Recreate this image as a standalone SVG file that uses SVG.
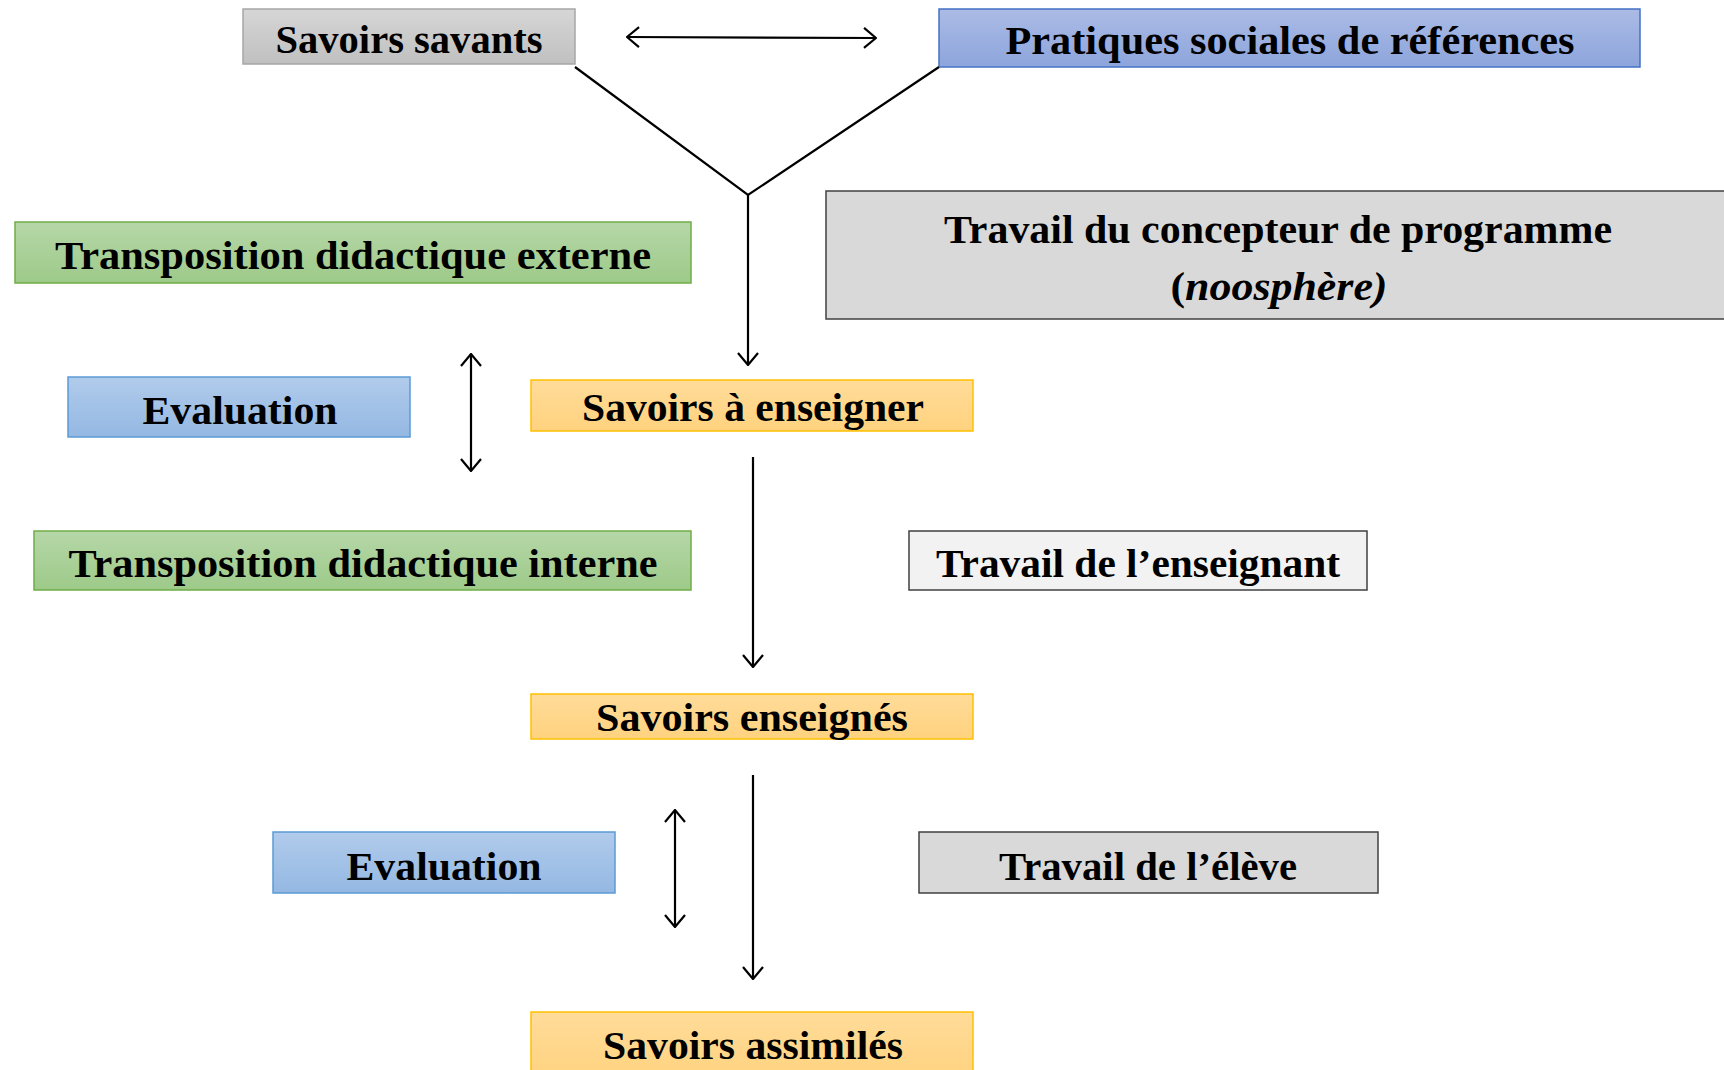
<svg xmlns="http://www.w3.org/2000/svg" width="1724" height="1070" viewBox="0 0 1724 1070">
<defs>
<linearGradient id="gGray" x1="0" y1="0" x2="0" y2="1"><stop offset="0" stop-color="#d6d6d6"/><stop offset="1" stop-color="#c0c0c0"/></linearGradient>
<linearGradient id="gBlue1" x1="0" y1="0" x2="0" y2="1"><stop offset="0" stop-color="#abbbe5"/><stop offset="1" stop-color="#8da5dc"/></linearGradient>
<linearGradient id="gGreen" x1="0" y1="0" x2="0" y2="1"><stop offset="0" stop-color="#b6d7a8"/><stop offset="1" stop-color="#9dca89"/></linearGradient>
<linearGradient id="gBlue2" x1="0" y1="0" x2="0" y2="1"><stop offset="0" stop-color="#b1cbeb"/><stop offset="1" stop-color="#94b8e3"/></linearGradient>
<linearGradient id="gYellow" x1="0" y1="0" x2="0" y2="1"><stop offset="0" stop-color="#ffdc9a"/><stop offset="1" stop-color="#ffd27e"/></linearGradient>
<marker id="arr" viewBox="0 0 14 22" refX="13" refY="11" markerWidth="14" markerHeight="22" markerUnits="userSpaceOnUse" orient="auto-start-reverse">
<path d="M1,1 L13,11 L1,21" fill="none" stroke="#000" stroke-width="2.2"/>
</marker>
</defs>
<style>
text{font-family:"Liberation Serif","Times New Roman",serif;font-weight:bold;fill:#000;text-anchor:middle;font-size:40px}
.con line,.con polyline{stroke:#000;stroke-width:2.2;fill:none}
.gray{fill:url(#gGray);stroke:#a6a6a6;stroke-width:1.5}
.blue1{fill:url(#gBlue1);stroke:#4472c4;stroke-width:1.5}
.green{fill:url(#gGreen);stroke:#70ad47;stroke-width:1.5}
.blue2{fill:url(#gBlue2);stroke:#5b9bd5;stroke-width:1.5}
.yellow{fill:url(#gYellow);stroke:#ffc000;stroke-width:1.5}
.work{fill:#d9d9d9;stroke:#404040;stroke-width:1.5}
.work2{fill:#f2f2f2;stroke:#404040;stroke-width:1.5}
</style>
<rect width="1724" height="1070" fill="#fff"/>

<g id="savoirs-savants"><rect class="gray" x="243" y="9" width="332" height="55"/><text x="409" y="53" textLength="267" lengthAdjust="spacingAndGlyphs">Savoirs savants</text></g>
<g id="pratiques"><rect class="blue1" x="939" y="9" width="701" height="58"/><text x="1290" y="54" textLength="569" lengthAdjust="spacingAndGlyphs">Pratiques sociales de références</text></g>
<g id="tde"><rect class="green" x="15" y="222" width="676" height="61"/><text x="353" y="269" textLength="596" lengthAdjust="spacingAndGlyphs">Transposition didactique externe</text></g>
<g id="concepteur"><rect class="work" x="826" y="191" width="910" height="128"/><text x="1278" y="243" textLength="668" lengthAdjust="spacingAndGlyphs">Travail du concepteur de programme</text><text x="1279" y="300" textLength="217" lengthAdjust="spacingAndGlyphs">(<tspan font-style="italic">noosphère)</tspan></text></g>
<g id="evaluation1"><rect class="blue2" x="68" y="377" width="342" height="60"/><text x="240" y="424" font-size="42" textLength="195" lengthAdjust="spacingAndGlyphs">Evaluation</text></g>
<g id="savoirs-enseigner"><rect class="yellow" x="531" y="380" width="442" height="51"/><text x="753" y="421" textLength="342" lengthAdjust="spacingAndGlyphs">Savoirs à enseigner</text></g>
<g id="tdi"><rect class="green" x="34" y="531" width="657" height="59"/><text x="363" y="577" textLength="589" lengthAdjust="spacingAndGlyphs">Transposition didactique interne</text></g>
<g id="enseignant"><rect class="work2" x="909" y="531" width="458" height="59"/><text x="1138" y="577" textLength="404" lengthAdjust="spacingAndGlyphs">Travail de l’enseignant</text></g>
<g id="savoirs-enseignes"><rect class="yellow" x="531" y="694" width="442" height="45"/><text x="752" y="731" textLength="312" lengthAdjust="spacingAndGlyphs">Savoirs enseignés</text></g>
<g id="evaluation2"><rect class="blue2" x="273" y="832" width="342" height="61"/><text x="444" y="880" font-size="42" textLength="195" lengthAdjust="spacingAndGlyphs">Evaluation</text></g>
<g id="eleve"><rect class="work" x="919" y="832" width="459" height="61"/><text x="1148" y="880" textLength="298" lengthAdjust="spacingAndGlyphs">Travail de l’élève</text></g>
<g id="savoirs-assimiles"><rect class="yellow" x="531" y="1012" width="442" height="70"/><text x="753" y="1059" textLength="300" lengthAdjust="spacingAndGlyphs">Savoirs assimilés</text></g>

<g id="connectors" class="con">
<line x1="627" y1="37" x2="876" y2="38" marker-start="url(#arr)" marker-end="url(#arr)"/>
<polyline points="575,67 748,195 939,67"/>
<line x1="748" y1="195" x2="748" y2="365" marker-end="url(#arr)"/>
<line x1="471" y1="354" x2="471" y2="471" marker-start="url(#arr)" marker-end="url(#arr)"/>
<line x1="753" y1="457" x2="753" y2="667" marker-end="url(#arr)"/>
<line x1="675" y1="810" x2="675" y2="927" marker-start="url(#arr)" marker-end="url(#arr)"/>
<line x1="753" y1="775" x2="753" y2="979" marker-end="url(#arr)"/>
</g>
</svg>
